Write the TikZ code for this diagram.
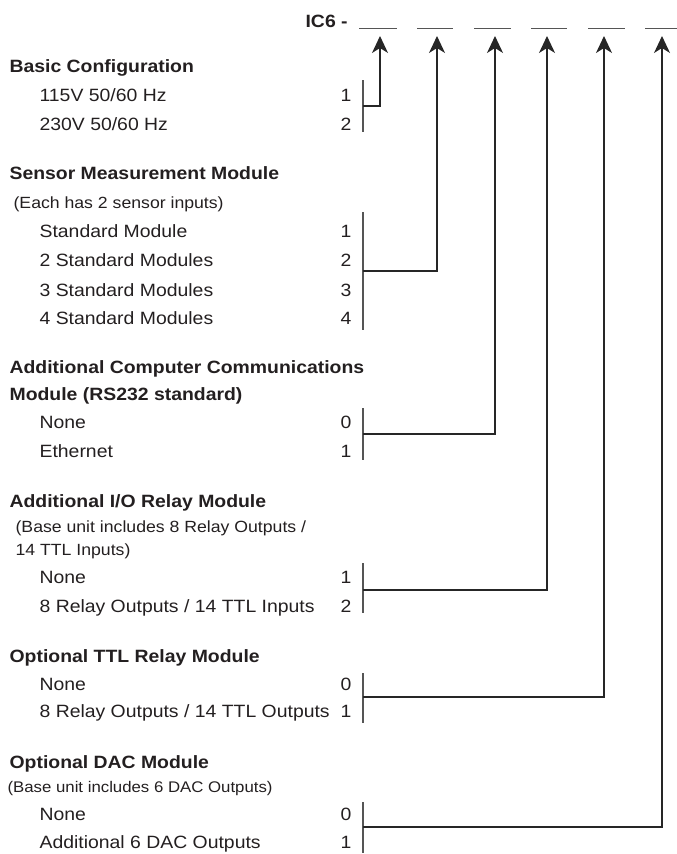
\documentclass[tikz,border=0pt]{standalone}
\usepackage{fontspec}
\setmainfont{Liberation Sans}[FakeStretch=1.09]
\usetikzlibrary{arrows.meta}
\definecolor{txt}{HTML}{231F20}
\definecolor{bargray}{HTML}{555555}

\begin{document}
\begin{tikzpicture}[x=1pt,y=-1pt,line width=1.2pt,>={Stealth[length=17pt,width=16pt,inset=5pt]},
  head/.style={anchor=base west,inner sep=0pt,text=txt,font=\fontsize{17.8}{20}\selectfont\bfseries},
  opt/.style={anchor=base west,inner sep=0pt,text=txt,font=\fontsize{17.8}{20}\selectfont},
  note/.style={anchor=base west,inner sep=0pt,text=txt,font=\fontsize{16.2}{18}\selectfont},
  num/.style={anchor=base east,inner sep=0pt,text=txt,font=\fontsize{17.8}{20}\selectfont},
  bar/.style={draw=bargray,line width=1.1pt}]
  \useasboundingbox (0,0) rectangle (677,854);
  % part number with the six blanks
  \node[head] (ic) at (305,27) {IC6 -};
  \foreach \a/\b in {359/397,417/453,474/511,531/567,588/625,645/677}
    \draw[bargray,line width=0.8pt] (\a,28) -- (\b,28);
  \foreach \i/\x in {1/380,2/437,3/495,4/547,5/604,6/662}
    \coordinate (a\i) at (\x,36);
  % Basic Configuration
  \node[head] (basic) at (9,72) {Basic Configuration};
  \node[opt] (o11) at (39,101) {115V 50/60 Hz}; \node[num] (n11) at (352,101) {1};
  \node[opt] (o12) at (39,130) {230V 50/60 Hz}; \node[num] (n12) at (352,130) {2};
  \coordinate (t1) at (363,80); \coordinate (m1) at (363,106); \coordinate (e1) at (363,132);
  % Sensor Measurement Module
  \node[head] (sensor) at (9,179) {Sensor Measurement Module};
  \node[note] (sensornote) at (13,208) {(Each has 2 sensor inputs)};
  \node[opt] (o21) at (39,237) {Standard Module};    \node[num] (n21) at (352,237) {1};
  \node[opt] (o22) at (39,266) {2 Standard Modules}; \node[num] (n22) at (352,266) {2};
  \node[opt] (o23) at (39,296) {3 Standard Modules}; \node[num] (n23) at (352,296) {3};
  \node[opt] (o24) at (39,324) {4 Standard Modules}; \node[num] (n24) at (352,324) {4};
  \coordinate (t2) at (363,212); \coordinate (m2) at (363,271); \coordinate (e2) at (363,330);
  % Computer Communications
  \node[head] (comm) at (9,373) {Additional Computer Communications};
  \node[head] (comm2) at (9,400) {Module (RS232 standard)};
  \node[opt] (o31) at (39,428) {None};     \node[num] (n31) at (352,428) {0};
  \node[opt] (o32) at (39,457) {Ethernet}; \node[num] (n32) at (352,457) {1};
  \coordinate (t3) at (363,408); \coordinate (m3) at (363,434); \coordinate (e3) at (363,460);
  % I/O Relay Module
  \node[head] (relay) at (9,507) {Additional I/O Relay Module};
  \node[note] (relaynote) at (15,532) {(Base unit includes 8 Relay Outputs /};
  \node[note] (relaynote2) at (15,555) {14 TTL Inputs)};
  \node[opt] (o41) at (39,583) {None}; \node[num] (n41) at (352,583) {1};
  \node[opt] (o42) at (39,612) {8 Relay Outputs / 14 TTL Inputs}; \node[num] (n42) at (352,612) {2};
  \coordinate (t4) at (363,563); \coordinate (m4) at (363,590); \coordinate (e4) at (363,613);
  % TTL Relay Module
  \node[head] (ttl) at (9,662) {Optional TTL Relay Module};
  \node[opt] (o51) at (39,690) {None}; \node[num] (n51) at (352,690) {0};
  \node[opt] (o52) at (39,717) {8 Relay Outputs / 14 TTL Outputs}; \node[num] (n52) at (352,717) {1};
  \coordinate (t5) at (363,673); \coordinate (m5) at (363,697); \coordinate (e5) at (363,723);
  % DAC Module
  \node[head] (dac) at (9,768) {Optional DAC Module};
  \node[note,font=\fontsize{15.4}{18}\selectfont] (dacnote) at (7,792) {(Base unit includes 6 DAC Outputs)};
  \node[opt] (o61) at (39,820) {None}; \node[num] (n61) at (352,820) {0};
  \node[opt] (o62) at (39,848) {Additional 6 DAC Outputs}; \node[num] (n62) at (352,848) {1};
  \coordinate (t6) at (363,802); \coordinate (m6) at (363,827); \coordinate (e6) at (363,853);
  % brackets and leaders
  \foreach \i in {1,...,6}{
    \draw[bar] (t\i) -- (e\i);
    \draw[->,draw=black!85] (m\i) -| (a\i);
  }
\end{tikzpicture}
\end{document}
